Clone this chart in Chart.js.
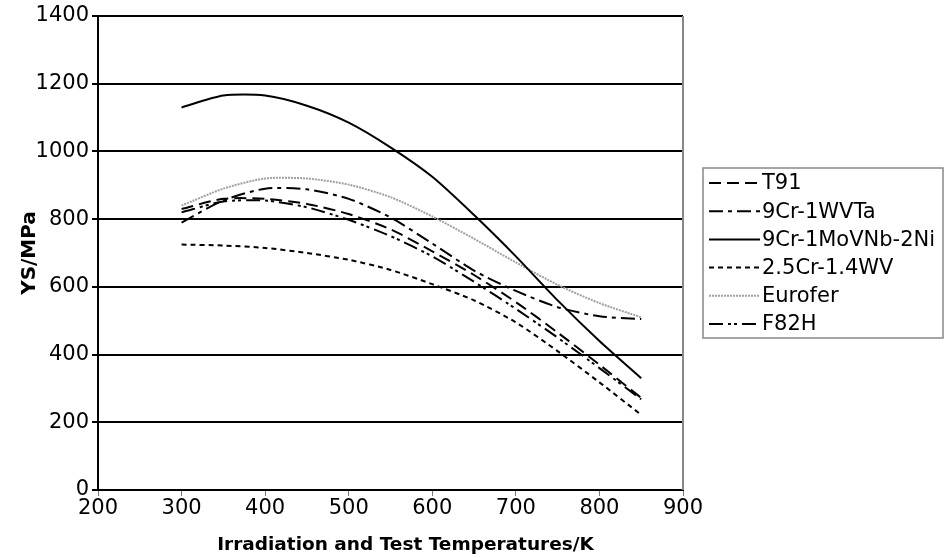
<!DOCTYPE html>
<html>
<head>
<meta charset="utf-8">
<script src="https://cdn.jsdelivr.net/npm/chart.js@4.4.1/dist/chart.umd.min.js"></script>
<style>
  html, body { margin: 0; padding: 0; background: #fff; }
  #wrap { width: 945px; height: 558px; }
</style>
</head>
<body>
<div id="wrap"><canvas id="ysChart" width="945" height="558"></canvas></div>
<script>
// yield strength vs irradiation/test temperature
const temps = [300, 350, 400, 450, 500, 550, 600, 650, 700, 750, 800, 850];

const t91       = [830, 860, 860, 845, 815, 770, 705, 635, 555, 465, 370, 272];
const cr9WVTa   = [790, 855, 890, 888, 860, 805, 728, 648, 588, 540, 513, 505];
const cr9MoVNb  = [1130, 1165, 1165, 1135, 1085, 1012, 925, 812, 690, 560, 440, 330];
const cr25WV    = [725, 722, 715, 700, 680, 650, 608, 560, 495, 410, 318, 222];
const eurofer   = [840, 890, 920, 920, 902, 865, 808, 742, 672, 606, 552, 510];
const f82h      = [820, 852, 855, 835, 798, 750, 690, 615, 535, 450, 360, 268];

const xTicks = [200, 300, 400, 500, 600, 700, 800, 900];
const yTicks = [0, 200, 400, 600, 800, 1000, 1200, 1400];

const xTitle = 'Irradiation and Test Temperatures/K';
const yTitle = 'YS/MPa';

const FONT = "'DejaVu Sans', Verdana, sans-serif";

function pts(vals) {
  return vals.map((v, i) => ({ x: temps[i], y: v }));
}

const datasets = [
  { label: 'T91',            data: pts(t91),      borderColor: '#000', borderDash: [12, 6] },
  { label: '9Cr-1WVTa',      data: pts(cr9WVTa),  borderColor: '#000', borderDash: [14, 5, 4, 5] },
  { label: '9Cr-1MoVNb-2Ni', data: pts(cr9MoVNb), borderColor: '#000', borderDash: [] },
  { label: '2.5Cr-1.4WV',    data: pts(cr25WV),   borderColor: '#000', borderDash: [5, 4] },
  { label: 'Eurofer',        data: pts(eurofer),  borderColor: '#a0a0a0', borderDash: [2, 1] },
  { label: 'F82H',           data: pts(f82h),     borderColor: '#000', borderDash: [14, 5, 3, 3, 3, 5] }
].map(d => Object.assign(d, {
  borderWidth: 2,
  pointRadius: 0,
  tension: 0.25,
  fill: false
}));

// boxed legend on the right, grey right edge of the plot area, x title
const sideLegend = {
  id: 'sideLegend',
  afterDraw(chart) {
    const c = chart.ctx;
    const area = chart.chartArea;
    c.save();
    c.strokeStyle = '#888';
    c.lineWidth = 2;
    c.beginPath();
    c.moveTo(area.right, area.top);
    c.lineTo(area.right, area.bottom);
    c.stroke();

    // x axis title sits a little right of the plot centre
    c.fillStyle = '#000';
    c.font = 'bold 18.5px ' + FONT;
    c.textAlign = 'center';
    c.textBaseline = 'middle';
    c.fillText(xTitle, (area.left + area.right) / 2 + 15, 545);

    const bx = 703, by = 168, bw = 240, bh = 170;
    c.fillStyle = '#fff';
    c.fillRect(bx, by, bw, bh);
    c.strokeStyle = '#888';
    c.lineWidth = 1.5;
    c.strokeRect(bx, by, bw, bh);

    c.font = '21px ' + FONT;
    c.textAlign = 'left';
    chart.data.datasets.forEach((ds, i) => {
      const y = by + 15 + i * 28.2;
      c.strokeStyle = ds.borderColor;
      c.lineWidth = 2;
      c.setLineDash(ds.borderDash);
      c.beginPath();
      c.moveTo(bx + 6, y);
      c.lineTo(bx + 57, y);
      c.stroke();
      c.setLineDash([]);
      c.fillStyle = '#000';
      c.fillText(ds.label, bx + 59, y + 1);
    });
    c.restore();
  }
};

new Chart(document.getElementById('ysChart'), {
  type: 'line',
  data: { datasets: datasets },
  options: {
    responsive: false,
    animation: false,
    layout: { padding: { top: 16, right: 262, left: 0, bottom: 0 } },
    plugins: {
      legend: { display: false },
      tooltip: { enabled: false }
    },
    scales: {
      x: {
        type: 'linear',
        min: 200,
        max: 900,
        afterBuildTicks: (s) => { s.ticks = xTicks.map(v => ({ value: v })); },
        afterFit: (s) => { s.height = 68; },
        border: { display: true, color: '#000', width: 2 },
        grid: { drawOnChartArea: false, drawTicks: true, tickLength: 6, color: '#777', lineWidth: 1 },
        ticks: { color: '#000', font: { family: FONT, size: 21 }, padding: 0, callback: (v) => String(v) },
        title: { display: false }
      },
      y: {
        min: 0,
        max: 1400,
        afterBuildTicks: (s) => { s.ticks = yTicks.map(v => ({ value: v })); },
        afterFit: (s) => { s.width = 98; },
        border: { display: true, color: '#000', width: 2 },
        grid: { color: '#000', lineWidth: 2, tickLength: 6 },
        ticks: { color: '#000', font: { family: FONT, size: 21 }, padding: 3, callback: (v) => String(v) },
        title: {
          display: true,
          text: yTitle,
          color: '#000',
          font: { family: FONT, size: 20, weight: 'bold' },
          padding: { top: 18, bottom: 4 }
        }
      }
    }
  },
  plugins: [sideLegend]
});
</script>
</body>
</html>
